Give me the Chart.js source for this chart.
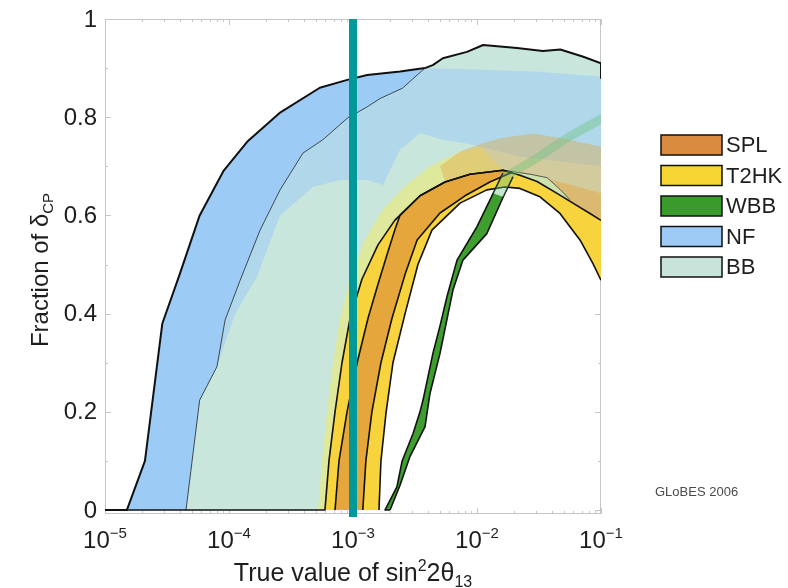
<!DOCTYPE html>
<html>
<head>
<meta charset="utf-8">
<script src="https://cdn.jsdelivr.net/npm/chart.js"></script>
<style>
  body { margin: 0; background: #fff; }
  canvas { display: block; }
</style>
</head>
<body>
<canvas id="myChart" width="788" height="588"></canvas>
<script>
const seriesNames = ['SPL', 'T2HK', 'WBB', 'NF', 'BB'];
const legendColors = ['#d98b3f', '#f6d532', '#3b9a2c', '#9dcbf6', '#c8e4da'];
const xTickExps = [-5, -4, -3, -2, -1];
const yTickValues = [0, 0.2, 0.4, 0.6, 0.8, 1];
const yTickLabels = ['0', '0.2', '0.4', '0.6', '0.8', '1'];
const markerX = 1e-3;

// NF: outer (left) edge
const nfOuterX = [1e-5, 1.5e-5, 2.1e-5, 2.9e-5, 4.0e-5, 5.8e-5, 9.0e-5, 1.4e-4, 2.6e-4, 5.4e-4, 9.0e-4, 1.3e-3, 2.4e-3, 3.8e-3];
const nfOuterY = [0, 0, 0.10, 0.38, 0.48, 0.60, 0.69, 0.75, 0.81, 0.86, 0.876, 0.886, 0.893, 0.90];
// NF: top on the right, and lower edge of the NF region
const nfTopX = [3.8e-3, 1e-2, 3e-2, 1e-1];
const nfTopY = [0.90, 0.897, 0.893, 0.883];
const nfLowerX = [8.0e-5, 1.12e-4, 1.68e-4, 2.58e-4, 4.75e-4, 7.85e-4, 1.3e-3, 1.75e-3, 2.06e-3, 2.39e-3, 3.47e-3, 5.3e-3, 8.8e-3, 2.2e-2, 1e-1];
const nfLowerY = [0.292, 0.40, 0.475, 0.60, 0.658, 0.672, 0.672, 0.662, 0.70, 0.733, 0.768, 0.754, 0.745, 0.72, 0.70];

// BB: left edge (thin line), top edge, and lower edge right of the peak
const bbEdgeX = [4.5e-5, 5.8e-5, 8.0e-5, 9.3e-5, 1.23e-4, 1.78e-4, 2.58e-4, 3.95e-4, 5.7e-4, 9.0e-4, 1.3e-3, 1.65e-3, 2.5e-3, 3.8e-3];
const bbEdgeY = [0, 0.224, 0.292, 0.387, 0.468, 0.57, 0.652, 0.727, 0.754, 0.798, 0.821, 0.838, 0.859, 0.90];
const bbTopX = [3.8e-3, 4.4e-3, 5.3e-3, 8.3e-3, 1.12e-2, 2.1e-2, 3.4e-2, 4.7e-2, 7.2e-2, 1e-1, 1e-1];
const bbTopY = [0.90, 0.906, 0.92, 0.933, 0.947, 0.941, 0.935, 0.938, 0.923, 0.91, 0.88];
const bbLensX = [1.62e-2, 2.67e-2, 3.67e-2, 4.67e-2, 5.62e-2];
const bbLensY = [0.692, 0.684, 0.677, 0.653, 0.632];

// T2HK
const t2hkOuterX = [1e-5, 5.94e-4, 6.4e-4, 7.16e-4, 8.15e-4, 9.46e-4, 1.18e-3, 1.59e-3, 2.17e-3, 3.47e-3, 5.52e-3, 8.78e-3, 1.62e-2, 2.22e-2, 3.05e-2, 4.42e-2, 5.94e-2, 8.15e-2, 1e-1];
const t2hkOuterY = [0, 0, 0.1, 0.2, 0.3, 0.39, 0.47, 0.54, 0.59, 0.64, 0.668, 0.684, 0.692, 0.682, 0.669, 0.645, 0.625, 0.604, 0.59];
const t2hkInnerX = [1.62e-3, 1.68e-3, 1.85e-3, 2.10e-3, 2.63e-3, 3.34e-3, 4.33e-3, 7.3e-3, 1.2e-2, 1.68e-2, 2.22e-2, 3.22e-2, 4.67e-2, 6.77e-2, 8.62e-2, 1e-1];
const t2hkInnerY = [0, 0.1, 0.2, 0.3, 0.4, 0.5, 0.57, 0.625, 0.652, 0.658, 0.655, 0.638, 0.604, 0.55, 0.502, 0.468];
const t2hkLightX = [5.22e-4, 5.62e-4, 6.17e-4, 6.9e-4, 7.86e-4, 9.46e-4, 1.25e-3, 1.71e-3, 2.63e-3, 4.18e-3, 6.65e-3, 1.06e-2, 1.62e-2];
const t2hkLightY = [0, 0.1, 0.2, 0.3, 0.39, 0.47, 0.55, 0.61, 0.66, 0.70, 0.725, 0.74, 0.692];

// SPL
const splOuterX = [7.16e-4, 7.71e-4, 8.95e-4, 1.08e-3, 1.32e-3, 1.59e-3, 1.88e-3, 2.17e-3, 2.39e-3, 3.47e-3, 5.52e-3, 8.78e-3, 1.62e-2, 1.92e-2];
const splOuterY = [0, 0.1, 0.2, 0.3, 0.39, 0.46, 0.52, 0.57, 0.60, 0.64, 0.668, 0.684, 0.692, 0.688];
const splInnerX = [1.2e-3, 1.27e-3, 1.42e-3, 1.68e-3, 2.06e-3, 2.63e-3, 3.29e-3, 5.03e-3, 8.0e-3, 1.27e-2, 1.92e-2];
const splInnerY = [0, 0.1, 0.2, 0.3, 0.39, 0.48, 0.55, 0.605, 0.64, 0.668, 0.688];
const splLightX = [5.03e-3, 7.3e-3, 1.06e-2, 1.53e-2, 2.83e-2, 5.32e-2, 1e-1];
const splLightY = [0.70, 0.73, 0.745, 0.757, 0.767, 0.755, 0.74];
const splRightX = [1.62e-2, 2.22e-2, 4.67e-2, 1e-1];
const splRightY = [0.692, 0.69, 0.668, 0.645];

// WBB
const wbbLeftX = [1.81e-3, 2.26e-3, 2.49e-3, 3.05e-3, 3.47e-3, 3.67e-3, 4.42e-3, 5.03e-3, 5.73e-3, 6.9e-3, 1.0e-2, 1.35e-2, 1.62e-2, 2.83e-2, 5.3e-2, 1e-1];
const wbbLeftY = [0, 0.047, 0.10, 0.156, 0.20, 0.224, 0.32, 0.375, 0.435, 0.509, 0.577, 0.645, 0.686, 0.722, 0.768, 0.807];
const wbbRightX = [1.99e-3, 2.39e-3, 2.88e-3, 3.81e-3, 4.18e-3, 5.03e-3, 6.4e-3, 7.7e-3, 1.2e-2, 1.63e-2, 1.95e-2, 3.2e-2, 5.5e-2, 1e-1];
const wbbRightY = [0, 0.05, 0.109, 0.17, 0.238, 0.319, 0.448, 0.509, 0.563, 0.638, 0.679, 0.71, 0.75, 0.785];

const pts = (xs, ys) => xs.map((x, i) => ({x: x, y: ys[i]}));
const rev = a => a.slice().reverse();
const between = (xs, ys, lo, hi) => pts(xs, ys).filter(p => p.x >= lo && p.x <= hi);

function area(label, data, color) {
  return {label, data, fill: 'shape', backgroundColor: color, borderColor: 'rgba(0,0,0,0)', borderWidth: 0, pointRadius: 0};
}
function edge(label, data, color, width) {
  return {label, data, fill: false, borderColor: color, borderWidth: width, pointRadius: 0, borderJoinStyle: 'round'};
}

const nfShape = pts(nfOuterX, nfOuterY).concat(rev(pts(bbEdgeX, bbEdgeY)));
const bbShape = pts(bbEdgeX, bbEdgeY).concat(pts(bbTopX, bbTopY).slice(1), rev(pts(t2hkInnerX, t2hkInnerY)));
const overlapShape = between(bbEdgeX, bbEdgeY, 8e-5, 1).concat(pts(nfTopX, nfTopY).slice(1), rev(pts(nfLowerX, nfLowerY)));
const t2hkLightShape = pts(t2hkLightX, t2hkLightY).concat(rev(between(t2hkOuterX, t2hkOuterY, 5e-4, 1.62e-2)));
const splLightShape = pts(splLightX, splLightY).concat(rev(between(t2hkOuterX, t2hkOuterY, 5e-3, 1)));
const t2hkShape = pts(t2hkOuterX, t2hkOuterY).concat(rev(pts(t2hkInnerX, t2hkInnerY)));
const splShape = pts(splOuterX, splOuterY).concat(rev(pts(splInnerX, splInnerY)));
const splRightShape = pts(splRightX, splRightY).concat(rev(between(t2hkOuterX, t2hkOuterY, 1.6e-2, 1)));
const lensShape = pts(bbLensX, bbLensY).concat(rev(between(t2hkOuterX, t2hkOuterY, 1.6e-2, 5.62e-2)));
const wbbSolidShape = pts(wbbLeftX, wbbLeftY).filter(p => p.y <= 0.65).concat(rev(pts(wbbRightX, wbbRightY).filter(p => p.y <= 0.66)));
const wbbTailShape = pts(wbbLeftX, wbbLeftY).filter(p => p.y >= 0.64).concat(rev(pts(wbbRightX, wbbRightY).filter(p => p.y >= 0.63)));

// bottom -> top
const layers = [
  area('NF', nfShape, '#9ccbf6'),
  area('BB', bbShape, '#c9e6dc'),
  area('NF+BB', overlapShape, '#b1d8ea'),
  area('T2HK light', t2hkLightShape, 'rgba(246,236,96,0.5)'),
  area('SPL light', splLightShape, 'rgba(226,160,55,0.38)'),
  area('T2HK', t2hkShape, '#f7d43d'),
  area('SPL', splShape, '#e5a73b'),
  area('SPL right', splRightShape, 'rgba(230,165,60,0.45)'),
  area('BB lens', lensShape, '#cde2ae'),
  area('WBB', wbbSolidShape, '#3f9f2e'),
  edge('BB edge', pts(bbEdgeX, bbEdgeY), '#3a4650', 1),
  edge('BB lens edge', pts(bbLensX, bbLensY), '#5a5a50', 1),
  edge('NF outer', pts(nfOuterX, nfOuterY), '#111', 2),
  edge('BB top', pts(bbTopX, bbTopY), '#111', 2),
  edge('T2HK outer', pts(t2hkOuterX, t2hkOuterY), '#111', 1.6),
  edge('T2HK inner', pts(t2hkInnerX, t2hkInnerY), '#111', 1.6),
  edge('SPL outer', pts(splOuterX, splOuterY), '#111', 1.6),
  edge('SPL inner', pts(splInnerX, splInnerY), '#111', 1.6),
  edge('WBB left', [{x: wbbRightX[0], y: 0}].concat(pts(wbbLeftX, wbbLeftY).filter(p => p.y <= 0.69)), '#111', 1.6),
  edge('WBB right', pts(wbbRightX, wbbRightY).filter(p => p.y <= 0.68), '#111', 1.6),
  area('WBB tail', wbbTailShape, 'rgba(105,195,125,0.4)'),
  {label: 'marker', data: [{x: markerX, y: -0.014}, {x: markerX, y: 1}], fill: false,
   borderColor: '#009999', borderWidth: 8, borderCapStyle: 'butt', pointRadius: 0, clip: false}
];

function font(s) { return s + 'px "Liberation Sans", Arial, sans-serif'; }

function drawRich(ctx, parts, cx, base) {
  let total = 0;
  parts.forEach(p => { ctx.font = font(p[1]); total += ctx.measureText(p[0]).width; });
  let left = cx - total / 2;
  parts.forEach(p => {
    ctx.font = font(p[1]);
    ctx.fillText(p[0], left, base + p[2]);
    left += ctx.measureText(p[0]).width;
  });
}

const decorations = {
  id: 'decorations',
  beforeDatasetsDraw(chart) {
    const {ctx, chartArea: a, scales: {x, y}} = chart;
    ctx.save();
    ctx.strokeStyle = '#c6c6c6';
    ctx.lineWidth = 1;
    ctx.strokeRect(a.left + 0.5, a.top + 0.5, a.right - a.left - 1, a.bottom - a.top - 1);
    ctx.beginPath();
    xTickExps.forEach(e => {
      for (let m = 1; m <= 9; m++) {
        if (e === -1 && m > 1) break;
        const px = Math.round(x.getPixelForValue(m * Math.pow(10, e))) + 0.5;
        const len = m === 1 ? 6 : 3;
        ctx.moveTo(px, a.bottom); ctx.lineTo(px, a.bottom - len);
        ctx.moveTo(px, a.top); ctx.lineTo(px, a.top + len);
      }
    });
    for (let i = 0; i <= 10; i++) {
      const py = Math.round(y.getPixelForValue(i / 10)) + 0.5;
      const len = i % 2 === 0 ? 6 : 3;
      ctx.moveTo(a.left, py); ctx.lineTo(a.left + len, py);
      ctx.moveTo(a.right, py); ctx.lineTo(a.right - len, py);
    }
    ctx.stroke();
    ctx.restore();
  },
  afterDraw(chart) {
    const {ctx, chartArea: a, scales: {x, y}} = chart;
    ctx.save();
    ctx.fillStyle = '#1e1e1e';
    ctx.textBaseline = 'middle';
    ctx.textAlign = 'right';
    ctx.font = font(24);
    yTickValues.forEach((v, i) => ctx.fillText(yTickLabels[i], a.left - 8, y.getPixelForValue(v) + 1));

    ctx.textAlign = 'left';
    ctx.textBaseline = 'alphabetic';
    xTickExps.forEach(e => {
      drawRich(ctx, [['10', 24, 0], ['\u2212' + Math.abs(e), 15, -10]], x.getPixelForValue(Math.pow(10, e)), 548);
    });

    drawRich(ctx, [['True value of sin', 25, 0], ['2', 16, -10], ['2\u03b8', 25, 0], ['13', 16, 6]], 353, 581);

    ctx.save();
    ctx.translate(48, 270);
    ctx.rotate(-Math.PI / 2);
    drawRich(ctx, [['Fraction of \u03b4', 24, 0], ['CP', 15, 5]], 0, 0);
    ctx.restore();

    // legend
    seriesNames.forEach((name, i) => {
      const top = 135 + i * 30.5;
      ctx.fillStyle = legendColors[i];
      ctx.fillRect(661, top, 61, 20);
      ctx.strokeStyle = '#111';
      ctx.lineWidth = 1.5;
      ctx.strokeRect(661, top, 61, 20);
      ctx.fillStyle = '#1e1e1e';
      ctx.font = font(22);
      ctx.textBaseline = 'middle';
      ctx.fillText(name, 726, top + 11);
    });

    ctx.fillStyle = '#4a4a4a';
    ctx.font = font(13);
    ctx.fillText('GLoBES 2006', 655, 492);
    ctx.restore();
  }
};

const ctx = document.getElementById('myChart').getContext('2d');
const myChart = new Chart(ctx, {
  type: 'line',
  data: {datasets: layers.slice().reverse()},
  options: {
    responsive: false,
    animation: false,
    devicePixelRatio: 1,
    events: [],
    layout: {padding: {left: 105, right: 187, top: 19, bottom: 74}},
    scales: {
      x: {type: 'logarithmic', min: 1e-5, max: 1e-1, display: false},
      y: {type: 'linear', min: -0.008, max: 1, display: false}
    },
    plugins: {legend: {display: false}, tooltip: {enabled: false}}
  },
  plugins: [decorations]
});
</script>
</body>
</html>
